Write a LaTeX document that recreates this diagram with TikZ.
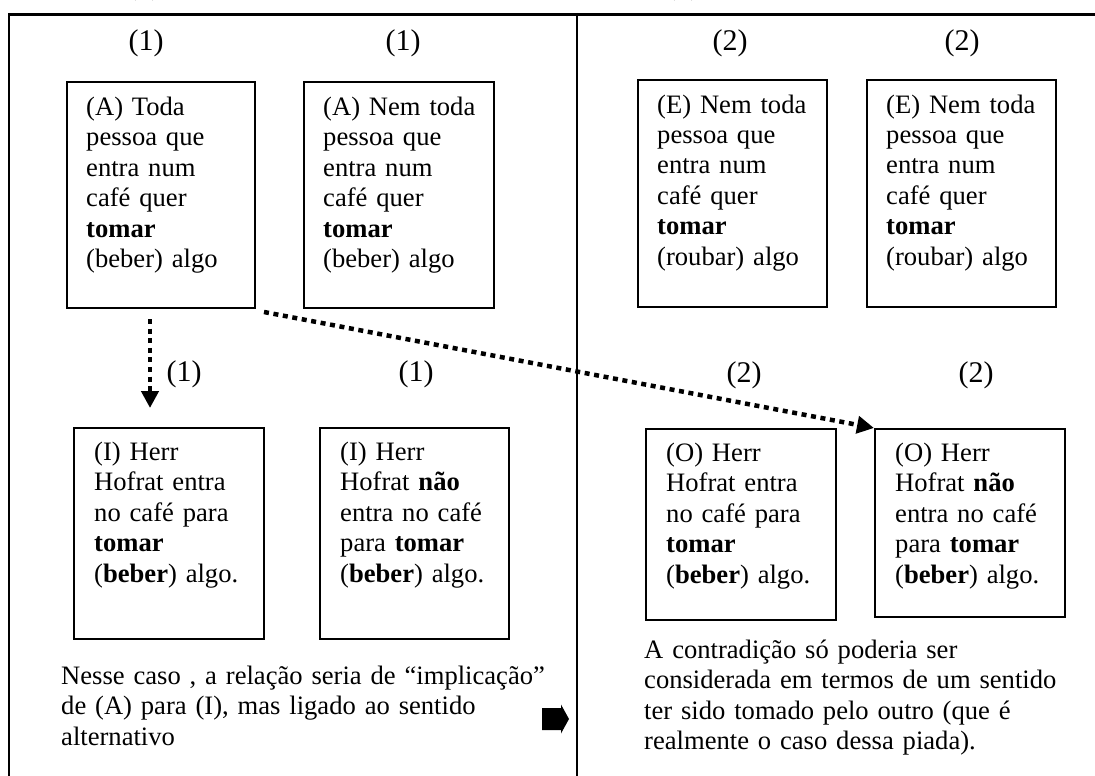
\documentclass[tikz,border=0pt]{standalone}
\usepackage{fontspec}
\setmainfont{Liberation Serif}
\usetikzlibrary{arrows.meta,calc}
\begin{document}
\begin{tikzpicture}[x=1pt,y=-1pt,
  frameline/.style={line width=2.2pt},
  box/.style={draw, line width=2pt, inner sep=0pt, anchor=north west},
  btxt/.style={anchor=base west, inner sep=0pt, text width=520pt, align=left,
               font=\fontsize{26.6}{30.5}\selectfont},
  lbl/.style={inner sep=0pt, font=\fontsize{30}{36}\selectfont},
  dotarrow/.style={line width=4.5pt, dash pattern=on 5pt off 4.6pt,
                   -{Triangle[width=17pt,length=17pt]}}]
\useasboundingbox (0,0) rectangle (1095,776);
\begin{scope}
\clip (0,0) rectangle (1095,776);
% clipped fragments at the very top
\node[lbl, anchor=base] (frag1) at (144,-5) {(1)};
\node[lbl, anchor=base] (frag2) at (683,-5) {(2)};
% frame
\draw[line width=3pt] (8,14.5) -- (1100,14.5);
\draw[frameline] (9,13) -- (9,780);
\draw[frameline] (577,13) -- (577,780);
\end{scope}

% top labels
\node[lbl] (l1) at (146,43) {(1)};
\node[lbl] (l2) at (403,43) {(1)};
\node[lbl] (l3) at (730,43) {(2)};
\node[lbl] (l4) at (962,43) {(2)};

% top boxes
\node[box, minimum width=188pt, minimum height=226pt] (A1) at (66,81) {};
\node[box, minimum width=190pt, minimum height=226pt] (A2) at (303,81) {};
\node[box, minimum width=189pt, minimum height=227pt] (E1) at (637,79) {};
\node[box, minimum width=189pt, minimum height=227pt] (E2) at (866,79) {};

\node[btxt] (A1t) at ($(A1.north west)+(20,34)$) {(A) Toda\\pessoa que\\entra num\\café quer\\\textbf{tomar}\\(beber) algo};
\node[btxt] (A2t) at ($(A2.north west)+(20,34)$) {(A) Nem toda\\pessoa que\\entra num\\café quer\\\textbf{tomar}\\(beber) algo};
\node[btxt] (E1t) at ($(E1.north west)+(20,34)$) {(E) Nem toda\\pessoa que\\entra num\\café quer\\\textbf{tomar}\\(roubar) algo};
\node[btxt] (E2t) at ($(E2.north west)+(20,34)$) {(E) Nem toda\\pessoa que\\entra num\\café quer\\\textbf{tomar}\\(roubar) algo};

% middle labels
\node[lbl] (m1) at (184,374) {(1)};
\node[lbl] (m2) at (416,374) {(1)};
\node[lbl] (m3) at (744,375) {(2)};
\node[lbl] (m4) at (976,375) {(2)};

% bottom boxes
\node[box, minimum width=190pt, minimum height=211pt] (I1) at (73,427) {};
\node[box, minimum width=189pt, minimum height=211pt] (I2) at (319,427) {};
\node[box, minimum width=190pt, minimum height=191pt] (O1) at (645,428) {};
\node[box, minimum width=190pt, minimum height=188pt] (O2) at (874,428) {};

\node[btxt] (I1t) at ($(I1.north west)+(21,33)$) {(I) Herr\\Hofrat entra\\no café para\\\textbf{tomar}\\(\textbf{beber}) algo.};
\node[btxt] (I2t) at ($(I2.north west)+(21,33)$) {(I) Herr\\Hofrat \textbf{não}\\entra no café\\para \textbf{tomar}\\(\textbf{beber}) algo.};
\node[btxt] (O1t) at ($(O1.north west)+(21,33)$) {(O) Herr\\Hofrat entra\\no café para\\\textbf{tomar}\\(\textbf{beber}) algo.};
\node[btxt] (O2t) at ($(O2.north west)+(21,33)$) {(O) Herr\\Hofrat \textbf{não}\\entra no café\\para \textbf{tomar}\\(\textbf{beber}) algo.};

% dotted arrows
\draw[dotarrow] ($(A1.south west)+(84,10)$) -- ($(I1.north west)+(77,-19)$);
\draw[dotarrow] ($(A1.south east)+(8,3)$) -- (O2.north west);

% bottom paragraphs
\node[btxt] (pl) at (61,684) {Nesse caso , a relação seria de “implicação”\\de (A) para (I), mas ligado ao sentido\\alternativo};
\node[btxt] (pr) at (644,658) {A contradição só poderia ser\\considerada em termos de um sentido\\ter sido tomado pelo outro (que é\\realmente o caso dessa piada).};

% block arrow
\fill (542,708) -- (561,708) -- (561,704.5) -- (569,719) -- (561,733.5) -- (561,730) -- (542,730) -- cycle;
\end{tikzpicture}
\end{document}
